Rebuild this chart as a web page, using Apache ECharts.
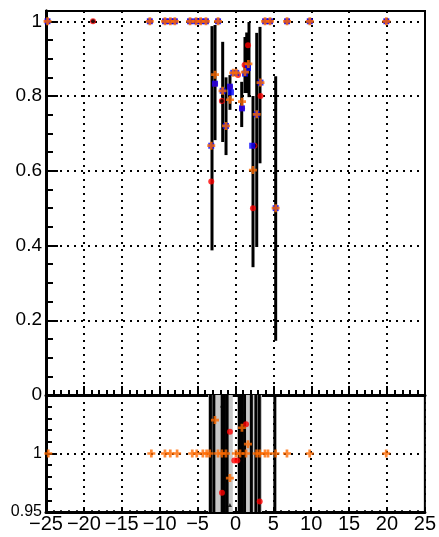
<!DOCTYPE html>
<html>
<head>
<meta charset="utf-8">
<script src="https://cdn.jsdelivr.net/npm/echarts@6/dist/echarts.min.js"></script>
<style>
html,body{margin:0;padding:0;background:#fff;}
#c{width:439px;height:537px;}
</style>
</head>
<body>
<div id="c"></div>
<script>
// ---------- data ----------
const mainYTicks = [0, 0.2, 0.4, 0.6, 0.8, 1];
const ratioYTicks = [0.95, 1, 1.05];

// main pad markers [x, y]
const redMain = [[-24.8,1],[-18.8,1],[-11.3,1],[-9.3,1],[-8.6,1],[-8.0,1],[-6.0,1],[-5.2,1],[-4.6,1],[-3.9,1],[-2.3,1],[3.9,1],[4.55,1],[6.8,1],[9.8,1],[19.9,1],
  [-3.2,0.571],[-2.7,0.833],[-1.8,0.787],[-0.73,0.825],[0.33,0.856],[0.86,0.767],[1.2,0.883],[1.65,0.936],[3.3,0.8],[2.3,0.5],[2.5,0.667]];
const blackMain = [[-18.8,1],[2.5,0.667],[-1.8,0.787]];
const blueMain = [[-24.8,1],[-11.3,1],[-9.3,1],[-8.6,1],[-8.0,1],[-6.0,1],[-5.2,1],[-4.6,1],[-3.9,1],[-2.3,1],[3.9,1],[4.55,1],[6.8,1],[9.8,1],[19.9,1],
  [-3.2,0.667],[-2.7,0.833],[-1.7,0.814],[-1.25,0.72],[-0.73,0.825],[-0.6,0.81],[-0.3,0.862],[0.1,0.862],[0.86,0.767],[1.25,0.86],[1.65,0.875],[2.8,0.751],[3.3,0.836],[2.2,0.667],[5.3,0.5]];
const orangeMain = [[-24.8,1],[-11.3,1],[-9.3,1],[-8.6,1],[-8.0,1],[-6.0,1],[-5.2,1],[-4.6,1],[-3.9,1],[-2.3,1],[3.9,1],[4.55,1],[6.8,1],[9.8,1],[19.9,1],
  [-3.2,0.667],[-2.7,0.857],[-1.7,0.814],[-1.25,0.72],[-0.73,0.79],[-0.3,0.862],[0.1,0.862],[0.86,0.785],[1.25,0.864],[1.7,0.886],[2.8,0.751],[3.3,0.836],[2.3,0.602],[5.3,0.5]];
// main pad error bars [x, low, high]
const errMain = [[-3.1,0.387,0.987],[-2.7,0.682,0.99],[-1.69,0.677,0.945],[-1.25,0.642,0.85],[-0.73,0.763,0.856],[0.82,0.717,0.838],
  [1.25,0.808,0.958],[1.48,0.808,0.97],[1.78,0.797,0.998],[2.31,0.342,0.80],[2.80,0.396,0.969],[3.23,0.62,0.985],[5.30,0.145,0.853]];

// ratio pad
const ratioBands = [[-3.6,-0.35],[0.45,3.5]];
const errRatio = [[-3.3,0.9,1.1],[-2.85,0.9,1.1],[-1.75,0.9,1.1],[-1.45,0.9,1.1],[-1.1,0.9,1.1],[0.5,0.9,1.1],[0.8,0.9,1.1],
  [1.2,0.9,1.1],[2.1,0.9,1.1],[2.7,0.9,1.1],[3.15,0.9,1.1],[5.2,0.9,1.1]];
const orangeRatio = [[-24.7,1],[-11.1,1],[-9.3,1],[-8.6,1],[-7.7,1],[-5.7,1],[-5.1,1],[-4.3,1],[-3.8,1],[-3.4,1],[-2.3,1],[-1.8,1],[-1.25,1],
  [0.07,1],[0.6,1],[1.4,1],[2.8,1],[3.2,1],[3.9,1],[4.3,1],[5.3,1],[6.8,1],[9.8,1],[19.9,1],
  [-2.7,1.0286],[-0.73,0.979],[0.86,1.022],[1.65,1.008]];
const redRatio = [[-0.73,1.0186],[-1.78,0.9665],[3.2,0.959],[1.4,1.025],[-0.15,0.994],[0.25,0.994]];
const blackRatio = [[-1.78,1.041],[0.86,1.036],[-0.73,0.956]];

// ---------- rendering ----------
const FONT = 'Liberation Sans, Arial, Helvetica, sans-serif';
const CROSS = 'path://M3.3,0H6.7V3.3H10V6.7H6.7V10H3.3V6.7H0V3.3H3.3Z';
const dotted = {color:'#000', width:2, type:[2,5]};

function clampY(y, cs){ return Math.min(Math.max(y, cs.y), cs.y + cs.height); }
function errRender(params, api){
  const cs = params.coordSys;
  const p1 = api.coord([api.value(0), api.value(1)]);
  const p2 = api.coord([api.value(0), api.value(2)]);
  return {type:'line', shape:{x1:p1[0], y1:clampY(p1[1],cs), x2:p2[0], y2:clampY(p2[1],cs)},
          style:{stroke:'#000', lineWidth:3}};
}
function bandRender(params, api){
  const cs = params.coordSys;
  const a = api.coord([api.value(0), 1]);
  const b = api.coord([api.value(1), 1]);
  return {type:'rect', shape:{x:a[0], y:cs.y, width:b[0]-a[0], height:cs.height},
          style:{fill:'#c8c8c8'}};
}
function fmtMinus(v){ return v < 0 ? '\u2212' + (-v) : String(v); }

const chart = echarts.init(document.getElementById('c'), null, {renderer:'canvas'});
chart.setOption({
  animation:false,
  backgroundColor:'#fff',
  grid:[
    {left:46, top:11, width:379, height:384, show:true, borderColor:'#000', borderWidth:2},
    {left:46, top:395, width:379, height:117, show:true, borderColor:'#000', borderWidth:2},
    {left:46, top:11, width:379, height:384, show:false}
  ],
  xAxis:[
    {gridIndex:0, type:'value', min:-25, max:25, interval:5,
     axisLine:{show:true, onZero:false, lineStyle:{color:'#000', width:3}},
     axisTick:{show:true, inside:true, length:9, lineStyle:{color:'#000', width:2}},
     minorTick:{show:true, splitNumber:5, length:5, lineStyle:{color:'#000', width:2}},
     axisLabel:{show:false}, splitLine:{show:true, lineStyle:dotted}},
    {gridIndex:1, type:'value', min:-25, max:25, interval:5,
     axisLine:{show:true, onZero:false, lineStyle:{color:'#000', width:3}},
     axisTick:{show:true, inside:true, length:3, lineStyle:{color:'#000', width:2}},
     minorTick:{show:true, splitNumber:5, length:2, lineStyle:{color:'#000', width:1.5}},
     axisLabel:{show:true, margin:2, fontFamily:FONT, fontSize:20, color:'#000', formatter:fmtMinus},
     splitLine:{show:true, lineStyle:dotted}},
    {gridIndex:2, type:'value', min:-25, max:25, show:false}
  ],
  yAxis:[
    {gridIndex:0, type:'value', min:0, max:1.0275, interval:0.2,
     axisLine:{show:true, onZero:false, lineStyle:{color:'#000', width:3}},
     axisTick:{show:true, inside:true, length:12, lineStyle:{color:'#000', width:2}},
     axisLabel:{margin:4, fontFamily:FONT, fontSize:19, color:'#000',
       formatter:function(v){ return mainYTicks.some(t => Math.abs(t - v) < 1e-6) ? String(+v.toFixed(2)) : ''; }},
     splitLine:{show:true, lineStyle:dotted}},
    {gridIndex:2, type:'value', min:0, max:1.0275, interval:0.05, position:'left',
     axisLine:{show:true, onZero:false, lineStyle:{color:'#000', width:3}}, axisLabel:{show:false}, splitLine:{show:false},
     axisTick:{show:true, inside:true, length:7, lineStyle:{color:'#000', width:2}}},
    {gridIndex:1, type:'value', min:0.95, max:1.05, interval:0.05,
     axisLine:{show:true, onZero:false, lineStyle:{color:'#000', width:3}},
     axisTick:{show:true, inside:true, length:11, lineStyle:{color:'#000', width:2}},
     minorTick:{show:true, splitNumber:5, length:6, lineStyle:{color:'#000', width:2}},
     axisLabel:{margin:4, fontFamily:FONT, fontSize:16, color:'#000', showMaxLabel:false,
       formatter:function(v){ return Math.abs(v - 1.05) < 1e-6 ? '' : String(+v.toFixed(2)); }},
     splitLine:{show:true, lineStyle:dotted}}
  ],
  series:[
    // main pad
    {type:'custom', xAxisIndex:0, yAxisIndex:0, renderItem:errRender, data:errMain, z:3},
    {type:'scatter', xAxisIndex:0, yAxisIndex:0, data:redMain, symbol:'circle', symbolSize:6, itemStyle:{color:'#ff0000'}, z:4},
    {type:'scatter', xAxisIndex:0, yAxisIndex:0, data:blackMain, symbol:'circle', symbolSize:4, itemStyle:{color:'#000'}, z:5},
    {type:'scatter', xAxisIndex:0, yAxisIndex:0, data:blueMain, symbol:'rect', symbolSize:6, itemStyle:{color:'#0000ff'}, z:6},
    {type:'scatter', xAxisIndex:0, yAxisIndex:0, data:orangeMain, symbol:CROSS, symbolSize:8, itemStyle:{color:'#ff6a00'}, z:7},
    // ratio pad
    {type:'custom', xAxisIndex:1, yAxisIndex:2, renderItem:bandRender, data:ratioBands, z:1},
    {type:'custom', xAxisIndex:1, yAxisIndex:2, renderItem:errRender, data:errRatio, z:3},
    {type:'scatter', xAxisIndex:1, yAxisIndex:2, data:redRatio, symbol:'circle', symbolSize:6, itemStyle:{color:'#ff0000'}, z:4},
    {type:'scatter', xAxisIndex:1, yAxisIndex:2, data:blackRatio, symbol:'triangle', symbolSize:4, itemStyle:{color:'#000'}, z:5},
    {type:'scatter', xAxisIndex:1, yAxisIndex:2, data:orangeRatio, symbol:CROSS, symbolSize:8, itemStyle:{color:'#ff6a00'}, z:7}
  ]
});
</script>
</body>
</html>
